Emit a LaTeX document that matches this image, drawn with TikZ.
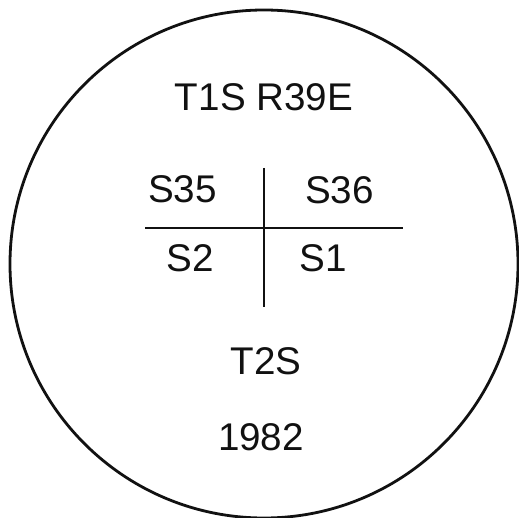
\documentclass[tikz,border=0pt]{standalone}
\usepackage{fontspec}
\setmainfont{Liberation Sans}
\usetikzlibrary{calc,positioning}
\definecolor{mapInk}{HTML}{111111}
\tikzset{
  mapring/.style={draw=mapInk, line width=2.8pt},
  mapcross/.style={draw=mapInk, line width=2.6pt},
  maplabel/.style={font=\fontsize{38.6}{44}\selectfont, text=mapInk,
    inner sep=0pt, anchor=center},
}
\begin{document}
\begin{tikzpicture}[x=1pt,y=-1pt]
  \path[use as bounding box] (0,0) rectangle (519,518);

  % outer ring of the survey stamp
  \node[mapring,circle,minimum size=508pt,inner sep=0pt] (ring) at (264,264) {};

  % township / range heading
  \node[maplabel] (town) at (264,97.5) {T1S R39E};

  % section corner cross
  \coordinate (crossW) at (145,228);
  \coordinate (crossE) at (403,228);
  \coordinate (crossN) at (264,168);
  \coordinate (crossS) at (264,307);
  \draw[mapcross] (crossW) -- (crossE);
  \draw[mapcross] (crossN) -- (crossS);

  \node[maplabel] (secNW) at (182.5,189) {S35};
  \node[maplabel] (secNE) at (339.5,190) {S36};
  \node[maplabel] (secSW) at (190,258.5) {S2};
  \node[maplabel] (secSE) at (323,258.5) {S1};

  % lower township and year
  \node[maplabel] (townS) at (266,361) {T2S};
  \node[maplabel] (year) at (261,437.5) {1982};
\end{tikzpicture}
\end{document}
